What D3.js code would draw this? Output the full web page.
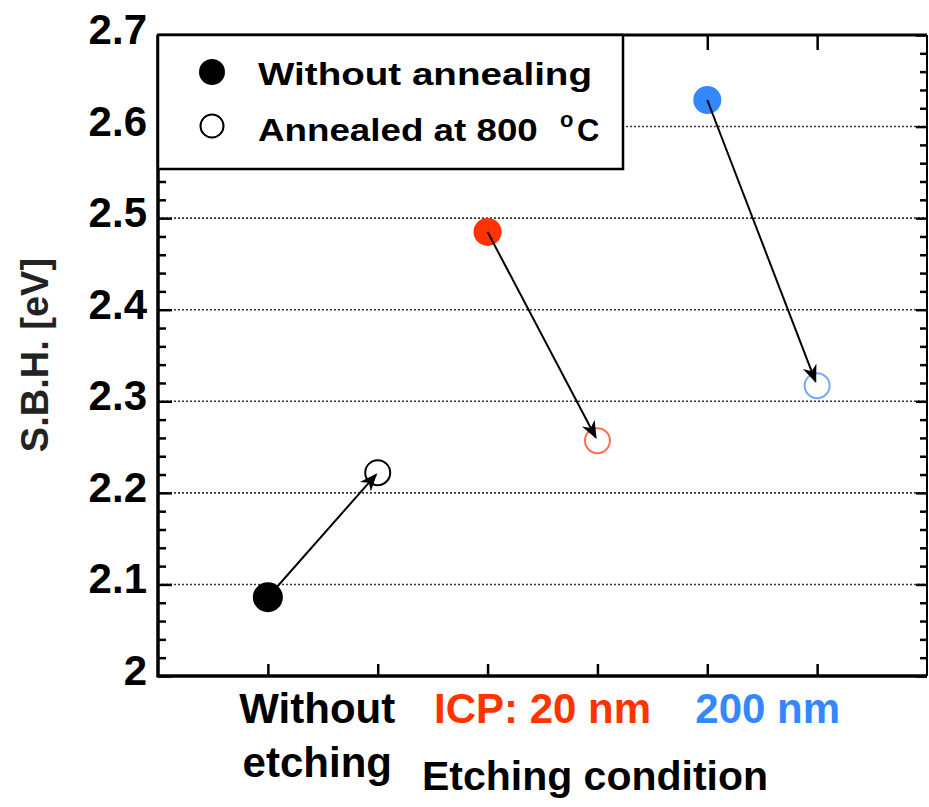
<!DOCTYPE html>
<html>
<head>
<meta charset="utf-8">
<script src="https://cdn.jsdelivr.net/npm/d3@7"></script>
<style>
  body { margin: 0; background: #fff; }
  text { font-family: "Liberation Sans", Arial, sans-serif; font-weight: bold; }
</style>
</head>
<body>
<div id="chart"></div>
<script>
// data
var categories = [["Without", "etching"], ["ICP: 20 nm"], ["200 nm"]];
var catColors = ["#000000", "#ff3300", "#3388ff"];
var labelPos = [1.45, 3.5, 5.55];
var withoutAnnealing = [2.086, 2.485, 2.629];
var annealed800 = [2.222, 2.257, 2.317];
var yTicks = [2, 2.1, 2.2, 2.3, 2.4, 2.5, 2.6, 2.7];
var yTickLabels = ["2", "2.1", "2.2", "2.3", "2.4", "2.5", "2.6", "2.7"];
var xTicks = [1, 2, 3, 4, 5, 6];
var legendLabels = ["Without annealing", "Annealed at 800 "];

var W = 929, H = 807;
var L = 158, R = 927, T = 35, B = 676;

var svg = d3.select("#chart").append("svg").attr("width", W).attr("height", H);

var x = d3.scaleLinear().domain([0, 7]).range([L, R]);
var y = d3.scaleLinear().domain([2, 2.7]).range([B, T]);

svg.append("defs").append("marker")
  .attr("id", "arrow").attr("viewBox", "0 0 10 10")
  .attr("refX", 9).attr("refY", 5)
  .attr("markerWidth", 9).attr("markerHeight", 9)
  .attr("markerUnits", "strokeWidth")
  .attr("orient", "auto")
  .append("path").attr("d", "M0,1 L10,5 L0,9 L3,5 Z").attr("fill", "#000");

// grid lines
svg.append("g").selectAll("line")
  .data(yTicks.filter(function(d) { return d > 2 && d < 2.7; }))
  .enter().append("line")
  .attr("x1", L).attr("x2", R)
  .attr("y1", function(d) { return y(d); })
  .attr("y2", function(d) { return y(d); })
  .attr("stroke", "#333").attr("stroke-width", 1.6)
  .attr("stroke-dasharray", "2,2");

// minor ticks every 0.02, major every 0.1 (inward)
var minor = d3.range(1, 35).filter(function(i) { return i % 5 != 0; })
  .map(function(i) { return 2 + i * 0.02; });

function styleAxis(g) {
  g.select(".domain").remove();
  g.selectAll("line").attr("stroke", "#000").attr("stroke-width", 2.5);
}

svg.append("g").attr("transform", "translate(" + L + ",0)")
  .call(d3.axisLeft(y).tickValues(minor).tickSize(-8).tickFormat(""))
  .call(styleAxis);
svg.append("g").attr("transform", "translate(" + L + ",0)")
  .call(d3.axisLeft(y).tickValues(yTicks).tickSize(-14).tickFormat(""))
  .call(styleAxis);
svg.append("g").attr("transform", "translate(" + R + ",0)")
  .call(d3.axisRight(y).tickValues(minor).tickSize(-7).tickFormat(""))
  .call(styleAxis);
svg.append("g").attr("transform", "translate(" + R + ",0)")
  .call(d3.axisRight(y).tickValues(yTicks).tickSize(-11).tickFormat(""))
  .call(styleAxis);

// x ticks bottom (up) and top (down)
svg.append("g").attr("transform", "translate(0," + B + ")")
  .call(d3.axisBottom(x).tickValues(xTicks).tickSize(-12).tickFormat(""))
  .call(styleAxis);
svg.append("g").attr("transform", "translate(0," + T + ")")
  .call(d3.axisTop(x).tickValues(xTicks).tickSize(-15).tickFormat(""))
  .call(styleAxis);

// frame
svg.append("line").attr("x1", L).attr("x2", L).attr("y1", T).attr("y2", B + 1.5)
  .attr("stroke", "#000").attr("stroke-width", 3.5);
svg.append("line").attr("x1", L).attr("x2", R).attr("y1", B).attr("y2", B)
  .attr("stroke", "#000").attr("stroke-width", 3.5);
svg.append("line").attr("x1", L).attr("x2", R).attr("y1", T).attr("y2", T)
  .attr("stroke", "#000").attr("stroke-width", 3);
svg.append("line").attr("x1", R).attr("x2", R).attr("y1", T).attr("y2", B)
  .attr("stroke", "#000").attr("stroke-width", 2);

// y tick labels
svg.append("g").selectAll("text").data(yTicks).enter().append("text")
  .attr("x", 147).attr("y", function(d) { return y(d) + 9; })
  .attr("text-anchor", "end").attr("font-size", 42)
  .text(function(d, i) { return yTickLabels[i]; });

// y title
svg.append("text")
  .attr("transform", "translate(48,355) rotate(-90)")
  .attr("text-anchor", "middle").attr("font-size", 38)
  .attr("fill", "#222")
  .text("S.B.H. [eV]");

// category labels
categories.forEach(function(lines, i) {
  lines.forEach(function(t, j) {
    svg.append("text")
      .attr("x", x(labelPos[i])).attr("y", 723 + j * 54)
      .attr("text-anchor", "middle").attr("font-size", 42)
      .attr("fill", catColors[i])
      .text(t);
  });
});

svg.append("text").attr("x", 595).attr("y", 790)
  .attr("text-anchor", "middle").attr("font-size", 41)
  .text("Etching condition");

// legend
var leg = svg.append("g");
leg.append("rect").attr("x", L).attr("y", T).attr("width", 623 - L).attr("height", 169 - T)
  .attr("fill", "#fff").attr("stroke", "#000").attr("stroke-width", 2.5);
leg.append("circle").attr("cx", 212).attr("cy", 72).attr("r", 13).attr("fill", "#000");
leg.append("circle").attr("cx", 212).attr("cy", 126).attr("r", 11.5)
  .attr("fill", "#fff").attr("stroke", "#000").attr("stroke-width", 2);
leg.append("text").attr("x", 258).attr("y", 85).attr("font-size", 31)
  .attr("textLength", 334).attr("lengthAdjust", "spacingAndGlyphs")
  .text(legendLabels[0]);
var t2 = leg.append("text").attr("x", 258).attr("y", 141).attr("font-size", 31);
t2.append("tspan").attr("textLength", 290).attr("lengthAdjust", "spacingAndGlyphs")
  .text(legendLabels[1]);
t2.append("tspan").attr("x", 560).attr("dy", -14).attr("font-size", 22).text("o");
t2.append("tspan").attr("x", 577).attr("dy", 14).text("C");

// arrows from as-etched to annealed
var pts = categories.map(function(c, i) {
  return { x0: x(2 * i + 1), y0: y(withoutAnnealing[i]), x1: x(2 * i + 2), y1: y(annealed800[i]), c: catColors[i] };
});

svg.append("g").selectAll("circle.open").data(pts).enter().append("circle")
  .attr("cx", function(d) { return d.x1; }).attr("cy", function(d) { return d.y1; })
  .attr("r", 12.5).attr("fill", "#fff")
  .attr("stroke", function(d, i) { return i == 0 ? "#000" : d.c; })
  .attr("stroke-opacity", function(d, i) { return i == 0 ? 1 : 0.7; })
  .attr("stroke-width", 2);

svg.append("g").selectAll("circle.fill").data(pts).enter().append("circle")
  .attr("cx", function(d) { return d.x0; }).attr("cy", function(d) { return d.y0; })
  .attr("r", function(d, i) { return i == 0 ? 15 : 14; })
  .attr("fill", function(d) { return d.c; });

svg.append("g").selectAll("line").data(pts).enter().append("line")
  .attr("x1", function(d) { return d.x0; }).attr("y1", function(d) { return d.y0; })
  .attr("x2", function(d) { return d.x1 - (d.x1 - d.x0) * 0.015; })
  .attr("y2", function(d) { return d.y1 - (d.y1 - d.y0) * 0.015; })
  .attr("stroke", "#000").attr("stroke-width", 2)
  .attr("marker-end", "url(#arrow)");
</script>
</body>
</html>
